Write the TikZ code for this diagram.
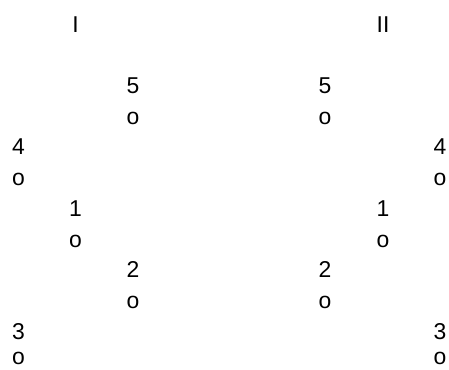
\documentclass[tikz,border=0pt]{standalone}
\usepackage{fontspec}
\setmainfont{Liberation Sans}
\tikzset{
  % one text cell of the numbering grid
  cell/.style={anchor=base,inner sep=0pt,font=\fontsize{23}{28}\selectfont},
}
\begin{document}
\begin{tikzpicture}[x=1bp,y=-1bp]
  \useasboundingbox (0,0) rectangle (449,369);
  % part I
  \node[cell] (tI) at (75.5,32) {I};
  \node[cell] (l5) at (133,93) {5};
  \node[cell] (l5o) at (133,124) {o};
  \node[cell] (l4) at (18.5,154) {4};
  \node[cell] (l4o) at (18.5,185) {o};
  \node[cell] (l1) at (75.5,216) {1};
  \node[cell] (l1o) at (75.5,247) {o};
  \node[cell] (l2) at (133,277) {2};
  \node[cell] (l2o) at (133,308) {o};
  \node[cell] (l3) at (18.5,339) {3};
  \node[cell] (l3o) at (18.5,364) {o};
  % part II
  \node[cell] (tII) at (383,32) {II};
  \node[cell] (r5) at (325,93) {5};
  \node[cell] (r5o) at (325,124) {o};
  \node[cell] (r4) at (440,154) {4};
  \node[cell] (r4o) at (440,185) {o};
  \node[cell] (r1) at (383,216) {1};
  \node[cell] (r1o) at (383,247) {o};
  \node[cell] (r2) at (325,277) {2};
  \node[cell] (r2o) at (325,308) {o};
  \node[cell] (r3) at (440,339) {3};
  \node[cell] (r3o) at (440,364) {o};
\end{tikzpicture}
\end{document}
